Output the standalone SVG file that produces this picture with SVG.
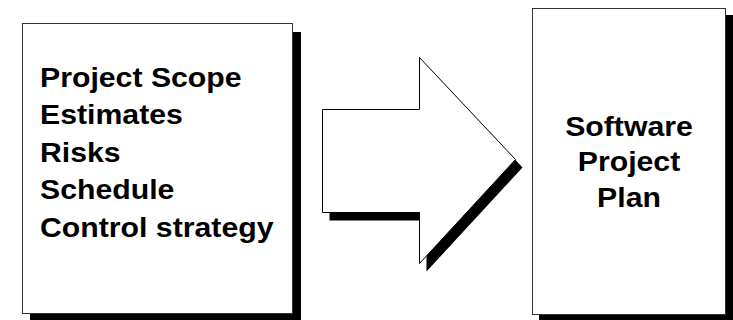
<svg xmlns="http://www.w3.org/2000/svg" width="733" height="320" viewBox="0 0 733 320">
  <style>
    .shadow { fill: #000; }
    .box { fill: #fff; stroke: #333; stroke-width: 1; }
    .label { font-family: "Liberation Sans", Arial, sans-serif; font-weight: bold; font-size: 27px; fill: #000; }
  </style>
  <defs>
    <polygon id="arrow-shape" points="322.5,109.5 419.5,109.5 419.5,57.5 515.5,159.5 419.5,263.5 419.5,212.5 322.5,212.5"/>
  </defs>
  <rect width="733" height="320" fill="#fff"/>

  <!-- inputs to planning -->
  <g id="inputs">
    <rect class="shadow" x="30" y="32" width="271" height="290"/>
    <rect class="box" x="22.5" y="23.5" width="270" height="290"/>
    <g transform="translate(40,0) scale(1.12,1)">
      <text class="label" x="0" y="87">Project Scope</text>
      <text class="label" x="0" y="124.5">Estimates</text>
      <text class="label" x="0" y="162">Risks</text>
      <text class="label" x="0" y="199.5">Schedule</text>
      <text class="label" x="0" y="237.5">Control strategy</text>
    </g>
  </g>

  <!-- block arrow -->
  <g id="connectors">
    <use href="#arrow-shape" class="shadow" transform="translate(7,8)"/>
    <use href="#arrow-shape" fill="#fff" stroke="#000" stroke-width="1"/>
  </g>

  <!-- resulting plan -->
  <g id="plan">
    <rect class="shadow" x="539" y="15" width="196" height="310"/>
    <rect class="box" x="532.5" y="8.5" width="193" height="306"/>
    <g transform="translate(629,0) scale(1.12,1)">
      <text class="label" x="0" y="136" text-anchor="middle">Software</text>
      <text class="label" x="0" y="171.5" text-anchor="middle">Project</text>
      <text class="label" x="0" y="207" text-anchor="middle">Plan</text>
    </g>
  </g>
</svg>
